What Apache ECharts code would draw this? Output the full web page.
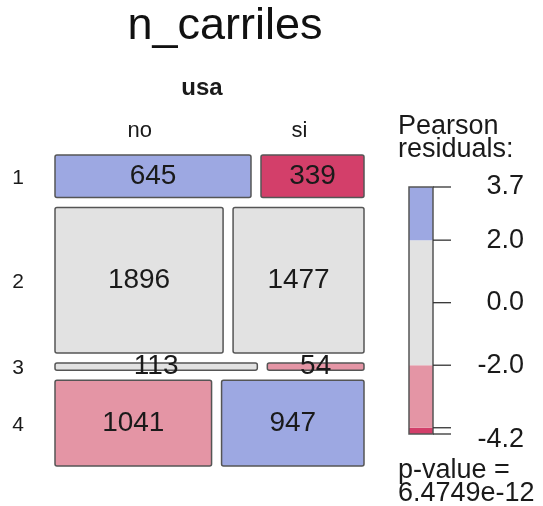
<!DOCTYPE html>
<html>
<head>
<meta charset="utf-8">
<script src="https://cdn.jsdelivr.net/npm/echarts@6/dist/echarts.min.js"></script>
<style>
html,body{margin:0;padding:0;background:#fff;}
#chart{width:543px;height:506px;}
</style>
</head>
<body>
<div id="chart"></div>
<script>
// ---- data ----
const titleText = 'n_carriles';
const rowVar = 'n_carriles';
const colVar = 'usa';
const rowCats = ['1', '2', '3', '4'];
const colCats = ['no', 'si'];
const countsNo = [645, 1896, 113, 1041];
const countsSi = [339, 1477, 54, 947];
const legendTicks = [3.7, 2.0, 0.0, -2.0, -4.2];
const legendTickMarks = [3.7, 2.0, 0.0, -2.0, -4.0, -4.2];
const legendBreaks = [-4.2, -4.0, -2.0, 2.0, 3.7];
const pValueText = '6.4749e-12';

// ---- styling ----
const FONT = '"Liberation Sans", Arial, Helvetica, sans-serif';
const TXT = '#1a1a1a';
const BORDER = '#555555';
function shade(r) {
  if (r > 4) return '#2A5DB0';
  if (r > 2) return '#9DA8E2';
  if (r < -4) return '#D33F6A';
  if (r < -2) return '#E495A5';
  return '#E2E2E2';
}

// ---- mosaic computation ----
const counts = [countsNo, countsSi];
const rowTotals = rowCats.map((_, i) => countsNo[i] + countsSi[i]);
const colTotals = counts.map(c => c.reduce((a, b) => a + b, 0));
const N = rowTotals.reduce((a, b) => a + b, 0);
const GRID_W = 309, GRID_H = 311;
const gapX = 10 / GRID_W, gapY = 10 / GRID_H;
const availH = 1 - gapY * (rowCats.length - 1);
const availW = 1 - gapX * (colCats.length - 1);

const cells = [];
const rowCenters = [];
let yCur = 0;
rowCats.forEach((rc, i) => {
  const h = rowTotals[i] / N * availH;
  let xCur = 0;
  colCats.forEach((cc, j) => {
    const obs = counts[j][i];
    const exp = rowTotals[i] * colTotals[j] / N;
    const res = (obs - exp) / Math.sqrt(exp);
    const w = obs / rowTotals[i] * availW;
    cells.push([xCur, yCur, xCur + w, yCur + h, obs, res]);
    xCur += w + gapX;
  });
  rowCenters.push(yCur + h / 2);
  yCur += h + gapY;
});
const colCenters = [];
let xc = 0;
colCats.forEach((cc, j) => {
  const w = colTotals[j] / N * availW;
  colCenters.push(xc + w / 2);
  xc += w + gapX;
});

const legendSegs = [];
for (let k = 0; k < legendBreaks.length - 1; k++) {
  legendSegs.push([legendBreaks[k], legendBreaks[k + 1]]);
}
const legMin = legendBreaks[0], legMax = legendBreaks[legendBreaks.length - 1];

const chart = echarts.init(document.getElementById('chart'), null, { renderer: 'canvas' });

const option = {
  backgroundColor: '#ffffff',
  animation: false,
  grid: [
    { left: 55, top: 155, width: GRID_W, height: GRID_H },
    { left: 409, top: 187, width: 24, height: 247 }
  ],
  xAxis: [
    { gridIndex: 0, type: 'value', min: 0, max: 1, show: false },
    { gridIndex: 1, type: 'value', min: 0, max: 1, show: false }
  ],
  yAxis: [
    { gridIndex: 0, type: 'value', min: 0, max: 1, inverse: true, show: false },
    {
      gridIndex: 1, type: 'value', min: legMin, max: legMax, position: 'right',
      axisLine: { show: false },
      splitLine: { show: false },
      axisTick: { show: false },
      axisLabel: { show: true, customValues: legendTicks, align: 'right', margin: 91,
        fontSize: 27, fontFamily: FONT, color: TXT,
        formatter: v => (Math.abs(v - legMin) < 1e-9 ? '{low|' + Number(v).toFixed(1) + '}' : Number(v).toFixed(1)),
        rich: { low: { fontSize: 27, fontFamily: FONT, color: TXT, padding: [12, 0, 0, 0] } } }
    }
  ],
  graphic: [
    { type: 'text', x: 225, y: 27, style: { text: titleText, font: '45px ' + FONT, fill: '#111',
      textAlign: 'center', textVerticalAlign: 'middle' } },
    { type: 'text', x: 202, y: 88, style: { text: colVar, font: 'bold 24px ' + FONT, fill: TXT,
      textAlign: 'center', textVerticalAlign: 'middle' } },
    { type: 'text', x: 398, y: 115, style: { text: 'Pearson\nresiduals:', font: '27px ' + FONT, fill: TXT,
      lineHeight: 23, textAlign: 'left', textVerticalAlign: 'top' } },
    { type: 'text', x: 398, y: 459, style: { text: 'p-value =\n' + pValueText, font: '27px ' + FONT, fill: TXT,
      lineHeight: 23, textAlign: 'left', textVerticalAlign: 'top' } }
  ],
  series: [
    {
      type: 'custom', xAxisIndex: 0, yAxisIndex: 0,
      data: cells,
      renderItem: function (params, api) {
        const p0 = api.coord([api.value(0), api.value(1)]);
        const p1 = api.coord([api.value(2), api.value(3)]);
        const res = api.value(5);
        return {
          type: 'group',
          children: [
            { type: 'rect', shape: { x: p0[0], y: p0[1], width: p1[0] - p0[0], height: p1[1] - p0[1], r: 2 },
              style: { fill: shade(res), stroke: BORDER, lineWidth: 1.5 } },
            { type: 'text', x: (p0[0] + p1[0]) / 2, y: (p0[1] + p1[1]) / 2,
              style: { text: String(api.value(4)), font: '28px ' + FONT, fill: TXT,
                textAlign: 'center', textVerticalAlign: 'middle' } }
          ]
        };
      }
    },
    {
      type: 'custom', xAxisIndex: 0, yAxisIndex: 0,
      data: rowCats.map((c, i) => [0, rowCenters[i]]),
      renderItem: function (params, api) {
        const p = api.coord([api.value(0), api.value(1)]);
        return { type: 'text', x: p[0] - 37, y: p[1] + 2,
          style: { text: rowCats[params.dataIndex], font: '21px ' + FONT, fill: TXT,
            textAlign: 'center', textVerticalAlign: 'middle' } };
      }
    },
    {
      type: 'custom', xAxisIndex: 0, yAxisIndex: 0,
      data: colCats.map((c, j) => [colCenters[j], 0]),
      renderItem: function (params, api) {
        const p = api.coord([api.value(0), api.value(1)]);
        return { type: 'text', x: p[0], y: p[1] - 24,
          style: { text: colCats[params.dataIndex], font: '22px ' + FONT, fill: TXT,
            textAlign: 'center', textVerticalAlign: 'middle' } };
      }
    },
    {
      type: 'custom', xAxisIndex: 1, yAxisIndex: 1,
      data: legendSegs,
      renderItem: function (params, api) {
        const lo = api.value(0), hi = api.value(1);
        const p0 = api.coord([0, hi]);
        const p1 = api.coord([1, lo]);
        return { type: 'rect', shape: { x: p0[0], y: p0[1], width: p1[0] - p0[0], height: p1[1] - p0[1] },
          style: { fill: shade((lo + hi) / 2), stroke: null } };
      }
    },
    {
      type: 'custom', xAxisIndex: 1, yAxisIndex: 1,
      data: [[legMin, legMax]],
      renderItem: function (params, api) {
        const p0 = api.coord([0, api.value(1)]);
        const p1 = api.coord([1, api.value(0)]);
        return { type: 'rect', shape: { x: p0[0], y: p0[1], width: p1[0] - p0[0], height: p1[1] - p0[1] },
          style: { fill: 'none', stroke: BORDER, lineWidth: 1.5 } };
      }
    },
    {
      type: 'custom', xAxisIndex: 1, yAxisIndex: 1,
      data: legendTickMarks.map(v => [1, v]),
      renderItem: function (params, api) {
        const p = api.coord([api.value(0), api.value(1)]);
        return { type: 'line', shape: { x1: p[0], y1: p[1], x2: p[0] + 18, y2: p[1] },
          style: { stroke: '#333', lineWidth: 1.3 } };
      }
    }
  ]
};
chart.setOption(option);
</script>
</body>
</html>
